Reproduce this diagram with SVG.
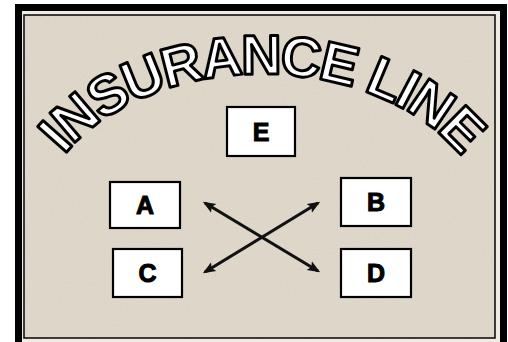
<svg xmlns="http://www.w3.org/2000/svg" width="508" height="342" viewBox="0 0 508 342">
  <style>
    .box { fill: #ffffff; stroke: #000000; stroke-width: 2.2; }
    .lbl { font-family: "Liberation Sans", Arial, sans-serif; font-weight: bold; font-size: 25px; fill: #000; stroke: #000; stroke-width: 1; text-anchor: middle; }
    .title { font-family: "Liberation Sans", Arial, sans-serif; font-weight: bold; font-size: 56px; letter-spacing: -2.5px; fill: #ffffff; stroke: #000000; stroke-width: 3; stroke-linejoin: round; }
    .conn { stroke: #111; stroke-width: 3.2; fill: none; marker-start: url(#ah); marker-end: url(#ah); }
  </style>
  <defs>
    <marker id="ah" viewBox="0 0 10 10" refX="8" refY="5" markerWidth="4" markerHeight="4" orient="auto-start-reverse" markerUnits="strokeWidth">
      <path d="M0,1 L10,5 L0,9 L2,5 Z" fill="#111"/>
    </marker>
    <filter id="tex" x="0" y="0" width="100%" height="100%">
      <feTurbulence type="fractalNoise" baseFrequency="0.6" numOctaves="2" seed="3" result="n"/>
      <feColorMatrix type="matrix" values="0 0 0 0 0.6  0 0 0 0 0.56  0 0 0 0 0.5  0 0 0 -1.6 0.9" result="spk"/>
      <feComposite in="spk" in2="SourceGraphic" operator="in"/>
    </filter>
    <path id="arc" d="M 32,239 A 230,165 0 0 1 492,239"/>
  </defs>

  <g id="frame">
    <rect x="0" y="0" width="508" height="342" fill="#ffffff"/>
    <rect x="18.5" y="7.5" width="485" height="345" fill="#f0ece4" stroke="#000" stroke-width="7"/>
    <rect x="24" y="15" width="471" height="323" fill="#ded7ca" stroke="#111" stroke-width="1.6"/>
    <rect x="25" y="16" width="469" height="321" fill="#ded7ca" filter="url(#tex)" opacity="0.35"/>
  </g>

  <g id="title">
    <text class="title"><textPath href="#arc" startOffset="50%" text-anchor="middle">INSURANCE LINE</textPath></text>
  </g>

  <g id="connectors">
    <line class="conn" x1="205" y1="203" x2="318" y2="271"/>
    <line class="conn" x1="205" y1="272" x2="318" y2="203"/>
  </g>

  <g id="node-E">
    <rect class="box" x="227" y="107" width="68" height="49"/>
    <text class="lbl" x="261" y="141">E</text>
  </g>
  <g id="node-A">
    <rect class="box" x="110" y="182" width="70" height="46"/>
    <text class="lbl" x="145" y="214">A</text>
  </g>
  <g id="node-C">
    <rect class="box" x="113" y="249" width="69" height="48"/>
    <text class="lbl" x="147.5" y="282">C</text>
  </g>
  <g id="node-B">
    <rect class="box" x="341" y="178" width="70" height="48"/>
    <text class="lbl" x="376" y="211">B</text>
  </g>
  <g id="node-D">
    <rect class="box" x="341" y="249" width="70" height="48"/>
    <text class="lbl" x="376" y="282">D</text>
  </g>
</svg>
